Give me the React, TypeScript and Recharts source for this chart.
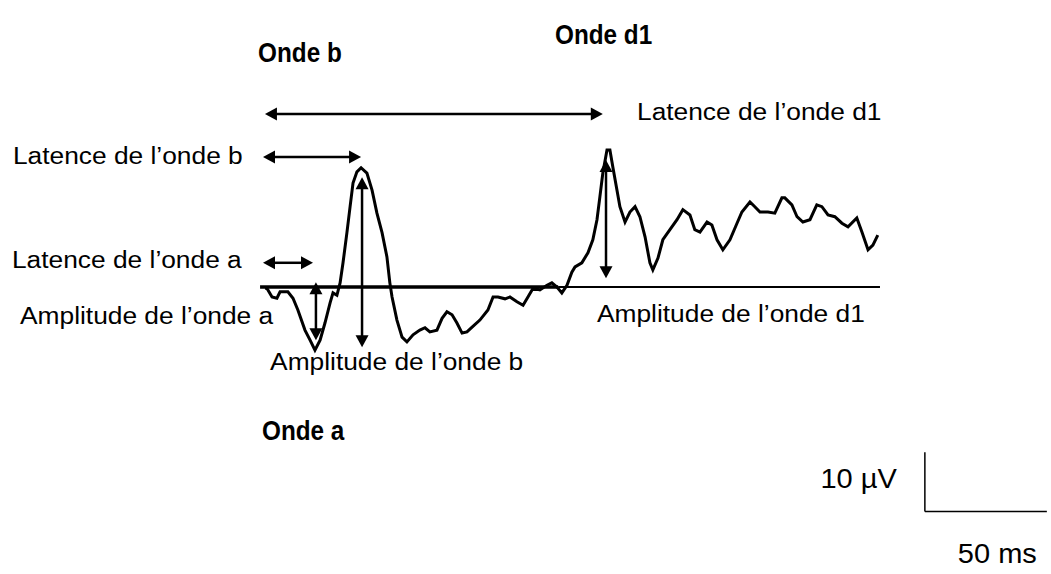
import React from "react";
import { LineChart, Line, XAxis, YAxis, ReferenceLine, ReferenceDot } from "recharts";

// ERG trace: time after the flash (ms) and amplitude (µV)
const timeMs = [
  0.8, 1.6, 3.7, 5.7, 7.0, 10.2, 12.3, 14.3, 17.2, 19.3,
  21.3, 23.4, 25.4, 27.5, 28.7, 30.3, 31.6, 32.8, 34.4, 35.7,
  36.9, 38.5, 40.2, 42.6, 44.7, 46.7, 48.8, 50.8, 52.0, 52.9,
  54.9, 57.0, 59.0, 61.5, 64.3, 66.4, 68.4, 71.3, 73.4, 75.4,
  77.5, 79.5, 81.6, 83.6, 85.7, 88.9, 92.2, 94.3, 96.3, 99.2,
  101.2, 104.1, 106.6, 108.6, 110.7, 113.5, 116.4, 118.4, 120.5, 122.5,
  124.6, 126.6, 127.9, 130.7, 133.2, 135.2, 136.9, 138.1, 139.3, 141.0,
  142.2, 143.4, 145.1, 146.3, 148.4, 150.4, 152.5, 154.5, 156.6, 158.6,
  159.8, 161.9, 163.9, 166.8, 169.7, 172.1, 175.0, 177.0, 179.1, 182.0,
  184.0, 186.1, 188.5, 191.4, 194.3, 196.3, 199.6, 201.6, 203.7, 207.0,
  209.8, 212.7, 213.9, 216.8, 218.9, 221.3, 224.2, 227.0, 229.1, 231.6,
  234.4, 237.3, 239.8, 243.4, 245.5, 248.0, 250.0, 252.0,
];
const amplitudeUv = [
  -0.2, -0.2, -1.7, -1.9, -0.8, -0.8, -1.9, -3.9, -7.3, -9.0,
  -10.7, -9.0, -6.1, -2.7, -1.0, -1.4, 0.7, 4.1, 9.2, 13.6,
  17.6, 19.5, 20.2, 19.3, 16.4, 12.5, 9.2, 5.1, 0.7, -1.7,
  -5.6, -8.5, -9.3, -8.1, -7.3, -6.9, -7.6, -7.3, -5.3, -4.2,
  -4.7, -6.1, -7.8, -7.6, -6.8, -5.6, -3.9, -1.7, -1.7, -2.0,
  -1.7, -2.5, -3.1, -1.7, -0.2, -0.5, 0.3, 0.7, 0.0, -1.0,
  0.3, 2.5, 3.4, 4.1, 5.8, 8.0, 11.4, 15.3, 19.3, 23.2,
  23.2, 20.3, 16.4, 13.6, 11.0, 12.7, 13.6, 11.9, 8.5, 4.1,
  2.9, 4.9, 8.0, 9.7, 11.4, 13.1, 12.2, 9.7, 9.3, 11.0,
  10.5, 8.0, 6.3, 8.0, 10.8, 12.7, 14.4, 13.6, 12.7, 12.7,
  12.5, 15.1, 15.1, 13.9, 11.9, 11.0, 11.4, 13.9, 13.6, 12.2,
  11.9, 10.8, 10.2, 11.7, 9.3, 6.3, 7.1, 8.8,
];

// double arrows [t1, v1, t2, v2]
const latencyArrows = [
  [0.8, 29.3, 139.3, 29.3], // d1
  [0, 22.0, 40.2, 22.0], // b
  [0, 4.1, 20.5, 4.1], // a
];
const amplitudeArrows = [
  [21.7, 0.8, 21.7, -9.0], // a
  [40.6, 18.6, 40.6, -10.2], // b
  [140.6, 21.5, 140.6, 1.5], // d1
];

// baseline (thick then thin part) and the 10 µV / 50 ms scale bar
const baselineThick = [-1.2, 121];
const baselineThin = [121, 252.9];
const scaleBarT = [271.3, 321.3];
const scaleBarV = [-28.0, -38.0];

const noteTexts = [
  "Latence de l’onde d1",
  "Latence de l’onde b",
  "Latence de l’onde a",
  "Amplitude de l’onde a",
  "Amplitude de l’onde b",
  "Amplitude de l’onde d1",
];
const noteAt = [
  [153.3, 28.3],
  [-102.5, 20.8],
  [-102.9, 3.2],
  [-99.6, -6.2],
  [2.9, -14.1],
  [136.9, -5.9],
];
const waveTexts = ["Onde b", "Onde d1", "Onde a"];
const waveAt = [
  [-2.0, 38.1],
  [119.7, 41.2],
  [-0.4, -25.9],
];
const scaleTexts = ["10 µV", "50 ms"];
const scaleAt = [
  [259.8, -34.1],
  [284.8, -46.8],
];

const data = timeMs.map((t, i) => ({ t, v: amplitudeUv[i] }));

const FONT = "'Liberation Sans', Arial, Helvetica, sans-serif";

const textShape =
  (text: string, size: number, stretch: number, bold = false, anchor = "start") =>
  (p: any) =>
    (
      <text
        x={0}
        y={0}
        transform={`translate(${p.cx},${p.cy}) scale(${stretch},1)`}
        fontSize={size}
        fontWeight={bold ? "bold" : "normal"}
        fontFamily={FONT}
        textAnchor={anchor}
        fill="#000"
      >
        {text}
      </text>
    );

const HEAD = 12;
const HALF = 6.5;
const arrowShape = (p: any) => {
  const { x1, y1, x2, y2 } = p;
  const len = Math.hypot(x2 - x1, y2 - y1) || 1;
  const ux = (x2 - x1) / len;
  const uy = (y2 - y1) / len;
  const head = (tx: number, ty: number, dir: number) => {
    const bx = tx - dir * ux * HEAD;
    const by = ty - dir * uy * HEAD;
    return `${tx},${ty} ${bx - uy * HALF},${by + ux * HALF} ${bx + uy * HALF},${by - ux * HALF}`;
  };
  return (
    <g>
      <line
        x1={x1 + ux * HEAD * 0.8}
        y1={y1 + uy * HEAD * 0.8}
        x2={x2 - ux * HEAD * 0.8}
        y2={y2 - uy * HEAD * 0.8}
        stroke="#000"
        strokeWidth={2.5}
      />
      <polygon points={head(x2, y2, 1)} fill="#000" />
      <polygon points={head(x1, y1, -1)} fill="#000" />
    </g>
  );
};

const App = () => {
  return (
    <div style={{ position: "absolute", left: 0, top: 0, background: "#fff" }}>
      <LineChart width={1051} height={574} data={data} margin={{ top: 0, right: 0, bottom: 0, left: 0 }}>
        <XAxis dataKey="t" type="number" domain={[-107.8, 323.0]} allowDataOverflow hide />
        <YAxis type="number" domain={[-48.6, 48.6]} allowDataOverflow hide />

        <ReferenceLine
          segment={[{ x: baselineThick[0], y: 0 }, { x: baselineThick[1], y: 0 }]}
          stroke="#000"
          strokeWidth={3.5}
        />
        <ReferenceLine
          segment={[{ x: baselineThin[0], y: 0 }, { x: baselineThin[1], y: 0 }]}
          stroke="#000"
          strokeWidth={2}
        />

        <Line
          type="linear"
          dataKey="v"
          stroke="#000"
          strokeWidth={3}
          dot={false}
          activeDot={false}
          isAnimationActive={false}
        />

        {[...latencyArrows, ...amplitudeArrows].map((a, i) => (
          <ReferenceLine
            key={`arr-${i}`}
            segment={[{ x: a[0], y: a[1] }, { x: a[2], y: a[3] }]}
            shape={arrowShape}
          />
        ))}

        <ReferenceLine
          segment={[{ x: scaleBarT[0], y: scaleBarV[0] }, { x: scaleBarT[0], y: scaleBarV[1] }]}
          stroke="#000"
          strokeWidth={1.5}
        />
        <ReferenceLine
          segment={[{ x: scaleBarT[0], y: scaleBarV[1] }, { x: scaleBarT[1], y: scaleBarV[1] }]}
          stroke="#000"
          strokeWidth={1.5}
        />

        {noteTexts.map((s, i) => (
          <ReferenceDot key={`n-${i}`} x={noteAt[i][0]} y={noteAt[i][1]} r={0} shape={textShape(s, 24.5, 1.075)} />
        ))}
        {waveTexts.map((s, i) => (
          <ReferenceDot key={`w-${i}`} x={waveAt[i][0]} y={waveAt[i][1]} r={0} shape={textShape(s, 27, 0.9, true)} />
        ))}
        {scaleTexts.map((s, i) => (
          <ReferenceDot
            key={`s-${i}`}
            x={scaleAt[i][0]}
            y={scaleAt[i][1]}
            r={0}
            shape={textShape(s, 27, 1.075, false, i === 0 ? "end" : "start")}
          />
        ))}
      </LineChart>
    </div>
  );
};

export default App;
